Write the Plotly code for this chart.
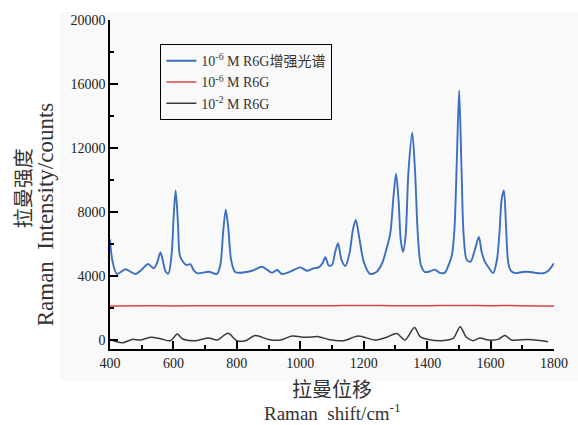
import plotly.graph_objects as go

# Enhanced spectrum 1e-6 M R6G (blue)
blue_x = [400, 408, 422, 449, 480, 500, 520, 538, 548, 559, 566, 575, 584, 594, 601, 607, 614, 620, 628,
          640, 654, 664, 676, 711, 737, 748, 757, 765, 773, 782, 795, 848, 879, 911, 927, 942, 968, 1000, 1021,
          1042, 1058, 1070, 1079, 1090, 1100, 1110, 1119, 1130, 1142, 1155, 1166, 1175, 1186, 1200, 1220, 1241,
          1258, 1272, 1284, 1294, 1302, 1310, 1317, 1324, 1332, 1341, 1353, 1362, 1370, 1380, 1393, 1410, 1424,
          1440, 1455, 1466, 1478, 1486, 1494, 1501, 1508, 1515, 1525, 1537, 1550, 1563, 1572, 1582, 1595, 1608,
          1620, 1628, 1635, 1642, 1649, 1656, 1665, 1678, 1700, 1718, 1740, 1765, 1780, 1800]
blue_y = [6300, 4900, 4130, 4420, 4130, 4400, 4750, 4480, 4800, 5480, 5000, 4300, 4150, 5300, 7800, 9350, 7400, 5300, 4950,
          4690, 4730, 4350, 4170, 4270, 4130, 4700, 6800, 8150, 7000, 5000, 4250, 4330, 4580, 4210, 4375, 4130, 4270, 4540, 4330,
          4480, 4540, 4800, 5170, 4650, 4700, 5500, 6050, 5000, 4630, 5400, 6900, 7500, 6400, 4900, 4130, 4270,
          4800, 5700, 6700, 9000, 10400, 8700, 6200, 5520, 6500, 10500, 12950, 10500, 6800, 4700, 4250, 4300, 4400,
          4200, 4200, 4600, 5300, 6900, 11500, 15600, 11000, 6600, 5000, 4900, 5600, 6450, 5500, 4900, 4500, 4180,
          5000, 6700, 8800, 9350, 7000, 4800, 4300, 4180, 4250, 4270, 4200, 4170, 4300, 4800]

# 1e-6 M R6G (red)
red_x = [400, 500, 600, 700, 800, 900, 1000, 1100, 1200, 1300, 1400, 1500, 1600, 1700, 1800]
red_y = [2120, 2140, 2130, 2150, 2140, 2150, 2140, 2150, 2160, 2150, 2150, 2160, 2150, 2150, 2120]

# 1e-2 M R6G (black)
black_x = [400, 439, 470, 495, 528, 559, 591, 612, 628, 670, 711, 738, 772, 800, 827, 858, 900, 937, 974, 1016,
           1058, 1089, 1136, 1183, 1236, 1272, 1304, 1330, 1360, 1378, 1404, 1446, 1482, 1504, 1524, 1545, 1566,
           1593, 1624, 1645, 1666, 1718, 1760, 1781]
black_y = [40, -170, 40, 0, 170, 80, -40, 375, 80, -40, 125, 0, 420, -40, -40, 290, 40, 0, 250, 170,
           210, 40, -40, 250, 0, 170, 415, 0, 790, 210, 40, -40, 100, 830, 170, -40, 125,
           0, 40, 290, 0, 40, -40, -100]

legend_names = ["10<sup>-6</sup> M R6G增强光谱", "10<sup>-6</sup> M R6G", "10<sup>-2</sup> M R6G"]
x_ticks = [400, 600, 800, 1000, 1200, 1400, 1600, 1800]
y_ticks = [0, 4000, 8000, 12000, 16000, 20000]

FONT = "Liberation Serif, Noto Sans CJK SC, serif"

fig = go.Figure()
fig.add_trace(go.Scatter(x=blue_x, y=blue_y, mode="lines", name=legend_names[0],
                         line=dict(color="#3b6fc2", width=1.9, shape="spline", smoothing=0.8)))
fig.add_trace(go.Scatter(x=red_x, y=red_y, mode="lines", name=legend_names[1],
                         line=dict(color="#d9434b", width=1.5, shape="spline")))
fig.add_trace(go.Scatter(x=black_x, y=black_y, mode="lines", name=legend_names[2],
                         line=dict(color="#3a3a3a", width=1.5, shape="spline", smoothing=0.8)))

axis_common = dict(showgrid=False, zeroline=False, showline=True, linecolor="black", linewidth=1.5,
                   ticks="inside", ticklen=8, tickwidth=1.5, tickcolor="black", automargin=False,
                   tickfont=dict(family=FONT, size=14, color="#222"))

fig.update_xaxes(range=[400, 1800], tickvals=x_ticks, ticktext=[str(v) for v in x_ticks],
                 minor=dict(ticks="inside", ticklen=4, tickwidth=1.5, tickcolor="black", dtick=100, tick0=400),
                 **axis_common)
fig.update_yaxes(range=[-560, 20000], tickvals=y_ticks, ticktext=[str(v) for v in y_ticks],
                 minor=dict(ticks="inside", ticklen=4, tickwidth=1.5, tickcolor="black", dtick=2000, tick0=0),
                 **axis_common)

fig.update_layout(
    width=578, height=425,
    margin=dict(l=110, r=24, t=20, b=76),
    paper_bgcolor="white", plot_bgcolor="rgba(0,0,0,0)",
    showlegend=True,
    legend=dict(x=0.113, y=0.927, xanchor="left", yanchor="top",
                bgcolor="rgba(0,0,0,0)", bordercolor="black", borderwidth=1.2,
                font=dict(family=FONT, size=14, color="#333"), tracegroupgap=0, itemwidth=30),
    font=dict(family=FONT),
    shapes=[dict(type="rect", xref="paper", yref="paper", x0=-0.1126, x1=1.06, y0=-0.1003, y1=1.024,
                 fillcolor="#f9f9f9", line=dict(width=0), layer="below")],
    annotations=[
        dict(text="拉曼强度", xref="paper", yref="paper", x=-0.198, y=0.489, showarrow=False, textangle=-90,
             font=dict(family="Noto Sans CJK SC", size=20, color="#333"), xanchor="center", yanchor="middle"),
        dict(text="Raman&nbsp;&nbsp;Intensity/counts", xref="paper", yref="paper", x=-0.146, y=0.41,
             showarrow=False, textangle=-90,
             font=dict(family="Liberation Serif", size=23, color="#333"), xanchor="center", yanchor="middle"),
        dict(text="拉曼位移", xref="paper", yref="paper", x=0.5, y=-0.12, showarrow=False,
             font=dict(family="Noto Sans CJK SC", size=20, color="#333"), xanchor="center", yanchor="middle"),
        dict(text="Raman&nbsp;&nbsp;shift/cm<sup>-1</sup>", xref="paper", yref="paper", x=0.5, y=-0.192,
             showarrow=False,
             font=dict(family="Liberation Serif", size=19, color="#333"), xanchor="center", yanchor="middle"),
    ],
)

fig.write_html("out.html", config={"displayModeBar": False},
               post_script="document.body.style.margin='0px';")
